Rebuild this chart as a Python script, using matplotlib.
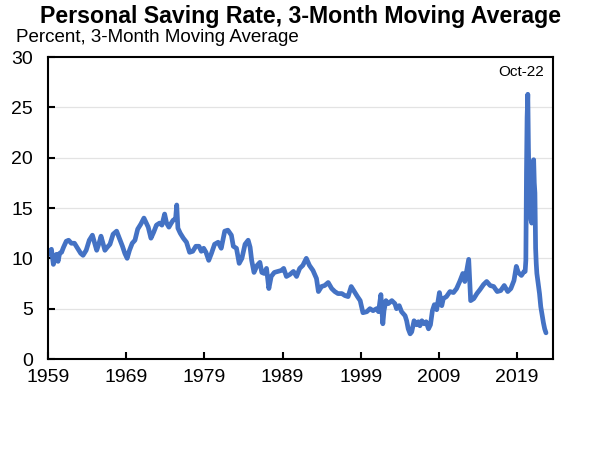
import matplotlib
matplotlib.use("Agg")
import matplotlib.pyplot as plt

# decimal-year dates and 3-month moving average saving rate (%)
dates = [
    1959.00, 1959.20, 1959.40, 1959.65, 1959.85, 1960.05, 1960.25, 1960.45, 1960.70, 1960.95,
    1961.30, 1961.60, 1961.95, 1962.35, 1962.75, 1963.15, 1963.45, 1963.85, 1964.25, 1964.65,
    1964.95, 1965.20, 1965.50, 1965.75, 1966.00, 1966.25, 1966.55, 1966.90, 1967.30, 1967.75,
    1968.10, 1968.50, 1968.80, 1969.10, 1969.40, 1969.75, 1970.10, 1970.45, 1970.85, 1971.25,
    1971.50, 1971.80, 1972.15, 1972.50, 1972.85, 1973.25, 1973.55, 1973.90, 1974.15, 1974.45,
    1974.75, 1975.00, 1975.30, 1975.45, 1975.60, 1975.90, 1976.30, 1976.70, 1977.10, 1977.50,
    1977.90, 1978.30, 1978.60, 1978.90, 1979.20, 1979.55, 1979.90, 1980.30, 1980.75, 1981.15,
    1981.60, 1982.00, 1982.45, 1982.70, 1983.10, 1983.45, 1983.80, 1984.20, 1984.60, 1984.85,
    1985.05, 1985.35, 1985.75, 1986.10, 1986.35, 1986.65, 1986.95, 1987.25, 1987.55, 1987.95,
    1988.40, 1988.85, 1989.15, 1989.50, 1989.95, 1990.40, 1990.80, 1991.20, 1991.60, 1992.05,
    1992.45, 1992.90, 1993.35, 1993.60, 1994.00, 1994.40, 1994.85, 1995.30, 1995.70, 1996.10,
    1996.60, 1997.00, 1997.40, 1997.80, 1998.20, 1998.60, 1998.95, 1999.30, 1999.80, 2000.20,
    2000.60, 2001.05, 2001.30, 2001.60, 2001.85, 2002.00, 2002.25, 2002.55, 2003.00, 2003.40,
    2003.60, 2003.95, 2004.25, 2004.70, 2004.90, 2005.10, 2005.35, 2005.55, 2005.85, 2006.20,
    2006.40, 2006.60, 2006.85, 2007.15, 2007.40, 2007.70, 2007.95, 2008.20, 2008.45, 2008.75,
    2009.10, 2009.40, 2009.60, 2010.00, 2010.45, 2010.90, 2011.30, 2011.70, 2012.10, 2012.35,
    2012.85, 2013.10, 2013.50, 2013.90, 2014.30, 2014.75, 2015.15, 2015.60, 2016.05, 2016.50,
    2016.95, 2017.40, 2017.85, 2018.25, 2018.65, 2018.95, 2019.20, 2019.60, 2019.95, 2020.08,
    2020.17, 2020.25, 2020.33, 2020.42, 2020.50, 2020.58, 2020.67, 2020.75, 2020.83, 2020.92,
    2021.00, 2021.08, 2021.17, 2021.25, 2021.33, 2021.42, 2021.50, 2021.58, 2021.67, 2021.75,
    2021.83, 2021.92, 2022.00, 2022.08, 2022.17, 2022.25, 2022.33, 2022.42, 2022.50, 2022.58,
    2022.67, 2022.75,
]
saving_rate = [
    10.8, 10.4, 10.9, 9.4, 9.9, 10.4, 9.7, 10.5, 10.6, 11.1,
    11.7, 11.8, 11.5, 11.5, 11.0, 10.5, 10.3, 10.8, 11.8, 12.3,
    11.5, 10.8, 11.5, 12.2, 11.5, 10.8, 11.1, 11.4, 12.4, 12.7,
    12.0, 11.2, 10.5, 10.0, 10.8, 11.5, 11.8, 12.9, 13.4, 14.0,
    13.6, 13.1, 12.0, 12.6, 13.3, 13.5, 13.3, 14.4, 13.5, 13.1,
    13.5, 13.8, 13.9, 15.3, 13.0, 12.5, 12.0, 11.6, 10.6, 10.7,
    11.2, 11.2, 10.7, 11.0, 10.6, 9.8, 10.5, 11.4, 11.6, 11.0,
    12.7, 12.8, 12.3, 11.2, 11.0, 9.5, 10.0, 11.4, 11.8, 11.1,
    9.8, 8.6, 9.3, 9.6, 8.6, 8.5, 9.0, 7.0, 8.2, 8.6,
    8.7, 8.8, 9.0, 8.2, 8.4, 8.7, 8.2, 9.0, 9.3, 10.0,
    9.3, 8.8, 8.0, 6.7, 7.2, 7.3, 7.6, 7.0, 6.7, 6.5,
    6.5, 6.3, 6.2, 7.2, 6.7, 6.2, 5.8, 4.6, 4.7, 5.0,
    4.8, 5.0, 4.7, 6.4, 3.5, 4.8, 5.8, 5.5, 5.8, 5.5,
    5.0, 5.3, 4.7, 4.3, 3.8, 3.0, 2.5, 2.7, 3.8, 3.4,
    3.7, 3.3, 3.8, 3.5, 3.7, 3.0, 3.4, 4.8, 5.4, 4.9,
    6.6, 5.3, 6.0, 6.2, 6.7, 6.6, 7.0, 7.7, 8.5, 7.7,
    9.9, 5.8, 6.0, 6.5, 6.9, 7.4, 7.7, 7.3, 7.2, 6.7,
    6.8, 7.3, 6.7, 7.0, 7.8, 9.2, 8.6, 8.3, 8.7, 8.7,
    9.8, 18.5, 24.0, 26.3, 21.0, 17.5, 15.5, 14.5, 13.8, 13.5,
    15.5, 15.8, 19.8, 17.5, 16.5, 11.0, 9.5, 8.5, 8.0, 7.5,
    7.0, 6.5, 5.8, 5.2, 4.8, 4.4, 4.0, 3.6, 3.3, 3.0,
    2.8, 2.6,
]
x_ticks = [1959, 1969, 1979, 1989, 1999, 2009, 2019]
y_ticks = [0, 5, 10, 15, 20, 25, 30]

plt.rcParams['font.family'] = ['Liberation Sans', 'DejaVu Sans']

fig = plt.figure(figsize=(6, 4.5), dpi=100)
ax = fig.add_axes([0.0805, 0.2022, 0.8412, 0.6711])

ax.plot(dates, saving_rate, color='#4472C4', lw=3.4, solid_joinstyle='round',
        solid_capstyle='round')

ax.set_xlim(1959, 2023.65)
ax.set_ylim(0, 30)
ax.set_xticks(x_ticks)
ax.set_xticklabels([str(t) for t in x_ticks])
ax.set_yticks(y_ticks)
for y in y_ticks[1:-1]:
    ax.axhline(y, color='#E3E3E3', lw=0.9, zorder=0)

ax.tick_params(axis='both', direction='in', length=5, width=1.5, labelsize=14,
               colors='black')
ax.tick_params(axis='x', pad=7)
ax.tick_params(axis='y', pad=11)
for s in ax.spines.values():
    s.set_linewidth(1.5)
    s.set_color('black')

ax.text(0.983, 0.975, 'Oct-22', transform=ax.transAxes, ha='right', va='top',
        fontsize=11)

fig.text(0.5, 0.99, 'Personal Saving Rate, 3-Month Moving Average', ha='center',
         va='top', fontsize=16.7, fontweight='bold')
fig.text(0.027, 0.935, 'Percent, 3-Month Moving Average', ha='left', va='top',
         fontsize=13.5)

fig.savefig('out.png', dpi=100)
